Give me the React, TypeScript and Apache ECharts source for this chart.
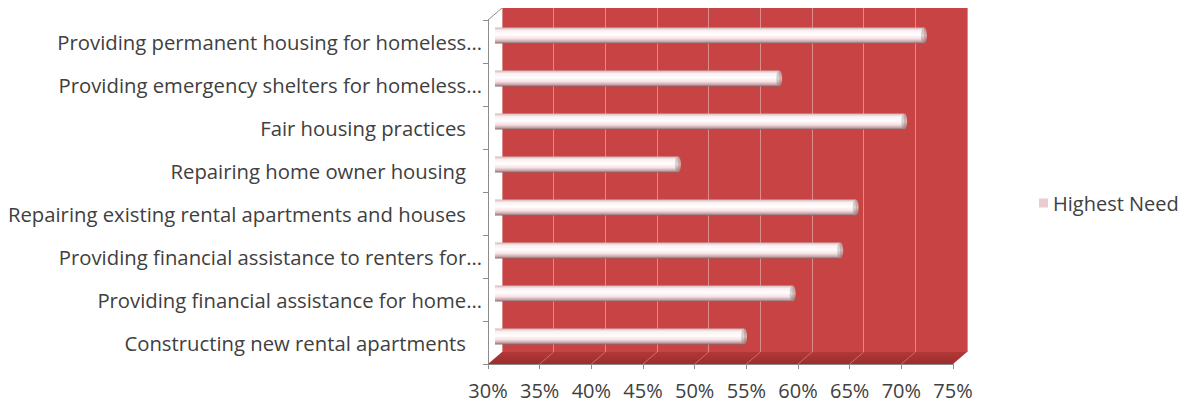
import { useEffect, useRef } from "react";
import * as echarts from "echarts";

// Survey responses: share of respondents rating each activity as the highest need
const categories = [
  "Providing permanent housing for homeless…",
  "Providing emergency shelters for homeless…",
  "Fair housing practices",
  "Repairing home owner housing",
  "Repairing existing rental apartments and houses",
  "Providing financial assistance to renters for…",
  "Providing financial assistance for home…",
  "Constructing new rental apartments",
];
const highestNeed = [71.5, 57.5, 69.6, 47.7, 64.9, 63.4, 58.8, 54.1];
const seriesName = "Highest Need";
const axisMin = 30;
const axisMax = 75;
const axisStep = 5;

const FONT = "'Open Sans', 'Noto Sans', sans-serif";
const TEXT = "#404040";
const AXIS_GRAY = "#8c8c8c";

// Front plane of the pseudo-3D box and its depth offset
const FRONT = { left: 488, top: 20, width: 465, height: 344 };
const DEPTH = { dx: 14, dy: -12 };
const BACK = { ...FRONT, left: FRONT.left + DEPTH.dx, top: FRONT.top + DEPTH.dy };
const MID = { ...FRONT, left: FRONT.left + DEPTH.dx / 2, top: FRONT.top + DEPTH.dy / 2 };

export default function App() {
  const ref = useRef<HTMLDivElement>(null);

  useEffect(() => {
    if (!ref.current) return;
    const chart = echarts.init(ref.current, undefined, { renderer: "svg" });

    const valueAxisBase = {
      type: "value" as const,
      min: axisMin,
      max: axisMax,
      interval: axisStep,
    };

    const option: any = {
      animation: false,
      backgroundColor: "#ffffff",
      grid: [
        {
          ...BACK,
          show: true,
          backgroundColor: "#c84444",
          borderWidth: 0,
        },
        { ...MID },
        { ...FRONT },
      ],
      legend: {
        left: 1034,
        top: 188,
        icon: "rect",
        itemWidth: 9,
        itemHeight: 9,
        itemGap: 10,
        textStyle: { fontFamily: FONT, fontSize: 20, color: TEXT },
        data: [{ name: seriesName, itemStyle: { color: "#e9cbd1" } }],
      },
      xAxis: [
        {
          ...valueAxisBase,
          gridIndex: 0,
          axisLabel: { show: false },
          axisLine: { show: false },
          axisTick: { show: false },
          splitLine: { show: true, lineStyle: { color: "#dc8a8a", width: 1 } },
        },
        { ...valueAxisBase, gridIndex: 1, show: false, splitLine: { show: false } },
        {
          ...valueAxisBase,
          gridIndex: 2,
          axisLine: { show: true, lineStyle: { color: AXIS_GRAY } },
          axisTick: { show: true, length: 5, lineStyle: { color: AXIS_GRAY } },
          splitLine: { show: false },
          axisLabel: {
            formatter: "{value}%",
            fontFamily: FONT,
            fontSize: 20,
            color: TEXT,
            margin: 16,
          },
        },
      ],
      yAxis: [
        { type: "category", gridIndex: 0, data: categories, inverse: true, show: false },
        { type: "category", gridIndex: 1, data: categories, inverse: true, show: false },
        {
          type: "category",
          gridIndex: 2,
          data: categories,
          inverse: true,
          axisLine: { show: true, lineStyle: { color: AXIS_GRAY } },
          axisTick: { show: true, length: 5, lineStyle: { color: AXIS_GRAY } },
          splitLine: { show: false },
          axisLabel: {
            margin: 6,
            formatter: (v: string) => (v.endsWith("…") ? `{t|${v}}` : `{p|${v}}`),
            rich: {
              t: { fontFamily: FONT, fontSize: 20.3, color: TEXT },
              p: { fontFamily: FONT, fontSize: 20.3, color: TEXT, padding: [0, 16, 0, 0] },
            },
          },
        },
      ],
      series: [
        {
          name: seriesName,
          type: "bar",
          xAxisIndex: 1,
          yAxisIndex: 1,
          barWidth: 16,
          data: highestNeed,
          z: 5,
          itemStyle: {
            color: new echarts.graphic.LinearGradient(0, 0, 0, 1, [
              { offset: 0, color: "#cdb6b8" },
              { offset: 0.18, color: "#fbeeee" },
              { offset: 0.45, color: "#ffffff" },
              { offset: 0.7, color: "#f7e0e3" },
              { offset: 0.88, color: "#c4a6aa" },
              { offset: 1, color: "#86686b" },
            ]),
          },
        },
        {
          // rounded cylinder ends
          name: seriesName,
          type: "scatter",
          xAxisIndex: 1,
          yAxisIndex: 1,
          symbol: "circle",
          symbolSize: [6, 16],
          z: 6,
          data: highestNeed.map((v, i) => [v, i]),
          itemStyle: {
            color: new echarts.graphic.LinearGradient(0, 0, 0, 1, [
              { offset: 0, color: "#b9aaaa" },
              { offset: 0.5, color: "#d8cccc" },
              { offset: 1, color: "#8f7f80" },
            ]),
          },
        },
      ],
    };

    chart.setOption(option);

    // Floor slab and box edges, placed from the axes' own pixel mapping
    const fx = (v: number) => chart.convertToPixel({ xAxisIndex: 2 }, v) as number;
    const bx = (v: number) => chart.convertToPixel({ xAxisIndex: 0 }, v) as number;
    const frontY = FRONT.top + FRONT.height;
    const backY = BACK.top + BACK.height;
    const ticks: number[] = [];
    for (let v = axisMin + axisStep; v < axisMax; v += axisStep) ticks.push(v);

    const graphic: any[] = [
      {
        type: "polygon",
        z: 1,
        shape: {
          points: [
            [fx(axisMin), frontY],
            [fx(axisMax), frontY],
            [bx(axisMax), backY],
            [bx(axisMin), backY],
          ],
        },
        style: {
          fill: new echarts.graphic.LinearGradient(0, 0, 0, 1, [
            { offset: 0, color: "#b33838" },
            { offset: 1, color: "#9c2c2c" },
          ]),
        },
      },
      ...ticks.map((v) => ({
        type: "line",
        z: 2,
        shape: { x1: fx(v), y1: frontY, x2: bx(v), y2: backY },
        style: { stroke: "#cf6c6c", lineWidth: 1 },
      })),
      {
        type: "line",
        z: 3,
        shape: { x1: fx(axisMin), y1: FRONT.top, x2: bx(axisMin), y2: BACK.top },
        style: { stroke: AXIS_GRAY, lineWidth: 1 },
      },
    ];
    chart.setOption({ graphic });

    return () => chart.dispose();
  }, []);

  return (
    <div
      ref={ref}
      style={{ position: "fixed", left: 0, top: 0, width: 1188, height: 404 }}
    />
  );
}
